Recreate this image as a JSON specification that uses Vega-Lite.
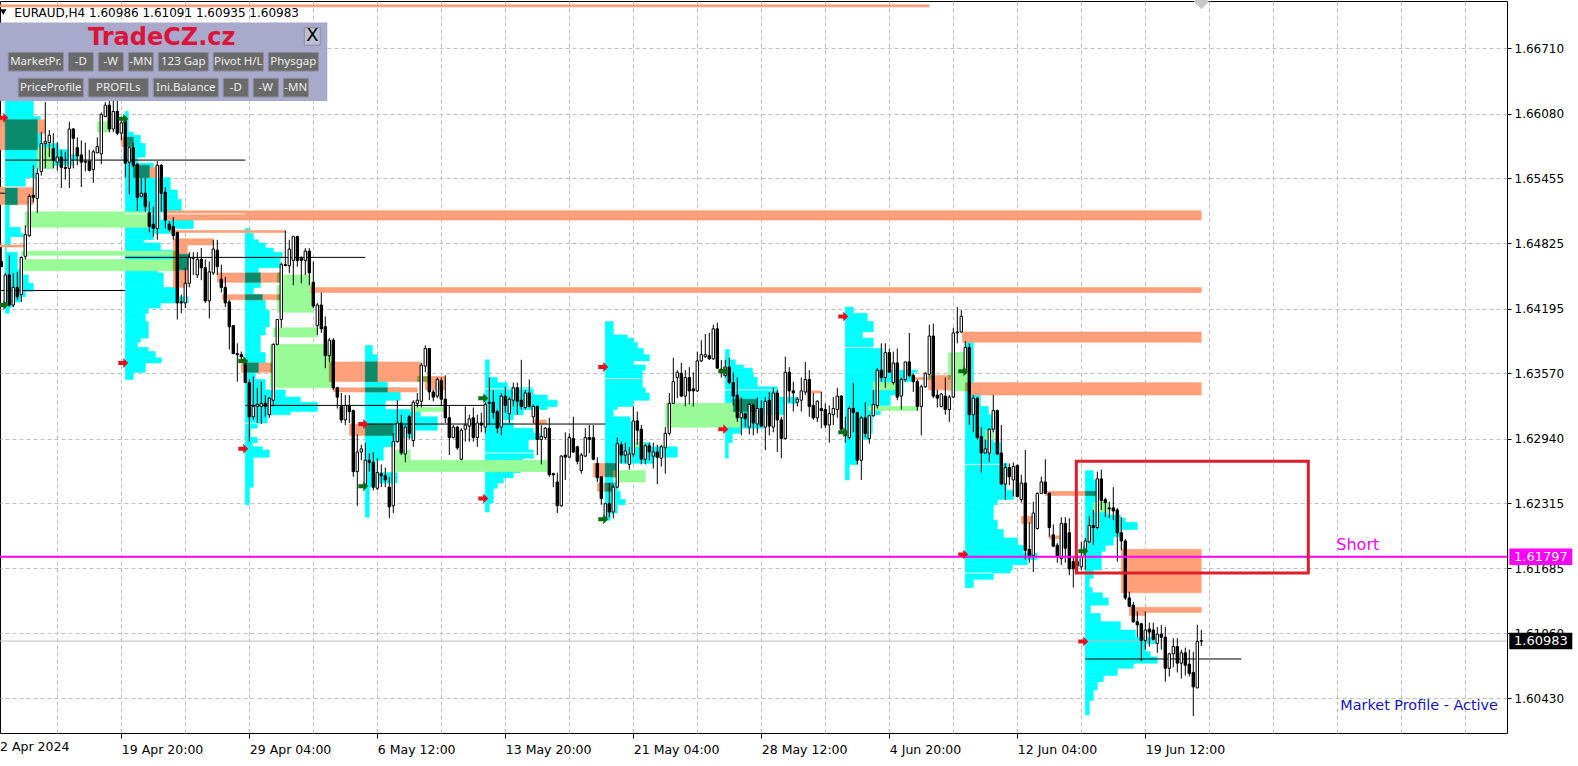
{"$schema":"https://vega.github.io/schema/vega-lite/v6.json","width":1507,"height":732,"autosize":{"type":"none"},"padding":{"left":0,"top":1,"right":71,"bottom":33},"background":"white","view":{"stroke":"black","strokeWidth":1},
"config":{"text":{"font":"DejaVu Sans"},"axis":{"labelFont":"DejaVu Sans","labelColor":"black"}},
"datasets":{
"zones":[
{"z":"profile","a":1,"b":8,"p":1.6625,"q":1.6605},{"z":"profile","a":1,"b":9.75,"p":1.6605,"q":1.6579},{"z":"profile","a":1,"b":14.25,"p":1.6579,"q":1.6573},{"z":"profile","a":1,"b":16.75,"p":1.6573,"q":1.6568},{"z":"profile","a":1,"b":19,"p":1.6568,"q":1.6563},{"z":"profile","a":1,"b":17.75,"p":1.6563,"q":1.6558},{"z":"profile","a":1,"b":13,"p":1.6558,"q":1.6555},{"z":"profile","a":1,"b":8.5,"p":1.6555,"q":1.6546},{"z":"profile","a":1,"b":6,"p":1.6546,"q":1.6537},{"z":"profile","a":1,"b":4,"p":1.6537,"q":1.652},{"z":"profile","a":1,"b":2,"p":1.652,"q":1.6498},{"z":"profile","a":1,"b":4.75,"p":1.6498,"q":1.6492},{"z":"profile","a":1,"b":5.5,"p":1.6492,"q":1.6489},{"z":"profile","a":1,"b":2.25,"p":1.6489,"q":1.6481},{"z":"profile","a":1,"b":1.25,"p":1.6481,"q":1.6474},{"z":"profile","a":1,"b":4,"p":1.6474,"q":1.6457},{"z":"profile","a":1,"b":4.75,"p":1.6457,"q":1.6452},{"z":"profile","a":1,"b":6.75,"p":1.6452,"q":1.6444},{"z":"profile","a":1,"b":8,"p":1.6444,"q":1.6436},{"z":"profile","a":1,"b":6,"p":1.6436,"q":1.6431},{"z":"profile","a":1,"b":4.75,"p":1.6431,"q":1.6426},{"z":"profile","a":1,"b":3,"p":1.6426,"q":1.6421},{"z":"profile","a":1,"b":2,"p":1.6421,"q":1.6415},
{"z":"profile","a":31,"b":31.75,"p":1.661,"q":1.659},{"z":"profile","a":31,"b":33,"p":1.659,"q":1.6587},{"z":"profile","a":31,"b":34.75,"p":1.6587,"q":1.6579},{"z":"profile","a":31,"b":36,"p":1.6579,"q":1.6566},{"z":"profile","a":31,"b":34,"p":1.6566,"q":1.656},{"z":"profile","a":31,"b":38,"p":1.656,"q":1.6546},{"z":"profile","a":31,"b":42.25,"p":1.6546,"q":1.6534},{"z":"profile","a":31,"b":44,"p":1.6534,"q":1.6525},{"z":"profile","a":31,"b":45,"p":1.6525,"q":1.6513},{"z":"profile","a":31,"b":39.75,"p":1.6513,"q":1.6505},{"z":"profile","a":31,"b":48,"p":1.6505,"q":1.6497},{"z":"profile","a":31,"b":43,"p":1.6497,"q":1.6492},{"z":"profile","a":31,"b":38,"p":1.6492,"q":1.6486},{"z":"profile","a":31,"b":35.5,"p":1.6486,"q":1.6483},{"z":"profile","a":31,"b":39.75,"p":1.6483,"q":1.6476},{"z":"profile","a":31,"b":43,"p":1.6476,"q":1.6457},{"z":"profile","a":31,"b":39,"p":1.6457,"q":1.6454},{"z":"profile","a":31,"b":40.5,"p":1.6454,"q":1.644},{"z":"profile","a":31,"b":44,"p":1.644,"q":1.6431},{"z":"profile","a":31,"b":46.75,"p":1.6431,"q":1.6425},{"z":"profile","a":31,"b":39.75,"p":1.6425,"q":1.642},{"z":"profile","a":31,"b":36.75,"p":1.642,"q":1.6415},{"z":"profile","a":31,"b":36,"p":1.6415,"q":1.6407},{"z":"profile","a":31,"b":36.75,"p":1.6407,"q":1.6391},{"z":"profile","a":31,"b":34.75,"p":1.6391,"q":1.6387},{"z":"profile","a":31,"b":34,"p":1.6387,"q":1.6382},{"z":"profile","a":31,"b":36.75,"p":1.6382,"q":1.6378},{"z":"profile","a":31,"b":38.5,"p":1.6378,"q":1.6372},{"z":"profile","a":31,"b":40,"p":1.6372,"q":1.6367},{"z":"profile","a":31,"b":36,"p":1.6367,"q":1.6358},{"z":"profile","a":31,"b":33,"p":1.6358,"q":1.6351},
{"z":"profile","a":61,"b":62,"p":1.6497,"q":1.6492},{"z":"profile","a":61,"b":63,"p":1.6492,"q":1.6486},{"z":"profile","a":61,"b":64.25,"p":1.6486,"q":1.6483},{"z":"profile","a":61,"b":66,"p":1.6483,"q":1.6478},{"z":"profile","a":61,"b":68,"p":1.6478,"q":1.6474},{"z":"profile","a":61,"b":70.25,"p":1.6474,"q":1.6469},{"z":"profile","a":61,"b":69.75,"p":1.6469,"q":1.6459},{"z":"profile","a":61,"b":64.25,"p":1.6459,"q":1.6454},{"z":"profile","a":61,"b":65.25,"p":1.6454,"q":1.6445},{"z":"profile","a":61,"b":64.75,"p":1.6445,"q":1.644},{"z":"profile","a":61,"b":63,"p":1.644,"q":1.6433},{"z":"profile","a":61,"b":65.25,"p":1.6433,"q":1.6428},{"z":"profile","a":61,"b":66,"p":1.6428,"q":1.6418},{"z":"profile","a":61,"b":67,"p":1.6418,"q":1.6402},{"z":"profile","a":61,"b":66,"p":1.6402,"q":1.6394},{"z":"profile","a":61,"b":64.75,"p":1.6394,"q":1.6377},{"z":"profile","a":61,"b":66,"p":1.6377,"q":1.6367},{"z":"profile","a":61,"b":64.25,"p":1.6367,"q":1.6358},{"z":"profile","a":61,"b":63.5,"p":1.6358,"q":1.6351},{"z":"profile","a":61,"b":66,"p":1.6351,"q":1.6341},{"z":"profile","a":61,"b":71,"p":1.6341,"q":1.6334},{"z":"profile","a":61,"b":74.75,"p":1.6334,"q":1.6329},{"z":"profile","a":61,"b":79,"p":1.6329,"q":1.632},{"z":"profile","a":61,"b":72.25,"p":1.632,"q":1.6317},{"z":"profile","a":61,"b":66.5,"p":1.6317,"q":1.6309},{"z":"profile","a":61,"b":64,"p":1.6309,"q":1.6304},{"z":"profile","a":61,"b":62.25,"p":1.6304,"q":1.6295},{"z":"profile","a":61,"b":64,"p":1.6295,"q":1.629},{"z":"profile","a":61,"b":62.75,"p":1.629,"q":1.6286},{"z":"profile","a":61,"b":65.25,"p":1.6286,"q":1.6283},{"z":"profile","a":61,"b":67,"p":1.6283,"q":1.6276},{"z":"profile","a":61,"b":63,"p":1.6276,"q":1.6247},{"z":"profile","a":61,"b":62,"p":1.6247,"q":1.623},
{"z":"profile","a":91,"b":92.75,"p":1.6384,"q":1.6375},{"z":"profile","a":91,"b":94,"p":1.6375,"q":1.6351},{"z":"profile","a":91,"b":96.5,"p":1.6351,"q":1.6343},{"z":"profile","a":91,"b":99.75,"p":1.6343,"q":1.6331},{"z":"profile","a":91,"b":96,"p":1.6331,"q":1.6322},{"z":"profile","a":91,"b":104.75,"p":1.6322,"q":1.6315},{"z":"profile","a":91,"b":109,"p":1.6315,"q":1.6302},{"z":"profile","a":91,"b":103.5,"p":1.6302,"q":1.6295},{"z":"profile","a":91,"b":98.5,"p":1.6295,"q":1.6286},{"z":"profile","a":91,"b":95.5,"p":1.6286,"q":1.6273},{"z":"profile","a":91,"b":93.5,"p":1.6273,"q":1.6261},{"z":"profile","a":91,"b":99,"p":1.6261,"q":1.6251},{"z":"profile","a":91,"b":94,"p":1.6251,"q":1.6247},{"z":"profile","a":91,"b":92,"p":1.6247,"q":1.6218},
{"z":"profile","a":121,"b":122,"p":1.637,"q":1.6353},{"z":"profile","a":121,"b":124,"p":1.6353,"q":1.6348},{"z":"profile","a":121,"b":126.5,"p":1.6348,"q":1.6343},{"z":"profile","a":121,"b":133,"p":1.6343,"q":1.6336},{"z":"profile","a":121,"b":136.5,"p":1.6336,"q":1.6331},{"z":"profile","a":121,"b":139,"p":1.6331,"q":1.6325},{"z":"profile","a":121,"b":136.5,"p":1.6325,"q":1.6322},{"z":"profile","a":121,"b":130.5,"p":1.6322,"q":1.6317},{"z":"profile","a":121,"b":128,"p":1.6317,"q":1.6312},{"z":"profile","a":121,"b":124.75,"p":1.6312,"q":1.6309},{"z":"profile","a":121,"b":128,"p":1.6309,"q":1.6304},{"z":"profile","a":121,"b":133,"p":1.6304,"q":1.6299},{"z":"profile","a":121,"b":134.75,"p":1.6299,"q":1.6293},{"z":"profile","a":121,"b":131.75,"p":1.6293,"q":1.6283},{"z":"profile","a":121,"b":133,"p":1.6283,"q":1.6275},{"z":"profile","a":121,"b":130.25,"p":1.6275,"q":1.627},{"z":"profile","a":121,"b":129.75,"p":1.627,"q":1.6261},{"z":"profile","a":121,"b":128,"p":1.6261,"q":1.6256},{"z":"profile","a":121,"b":125.5,"p":1.6256,"q":1.6251},{"z":"profile","a":121,"b":124,"p":1.6251,"q":1.6246},{"z":"profile","a":121,"b":123,"p":1.6246,"q":1.6232},{"z":"profile","a":121,"b":122,"p":1.6232,"q":1.6223},
{"z":"profile","a":151,"b":153,"p":1.6407,"q":1.6394},{"z":"profile","a":151,"b":156.5,"p":1.6394,"q":1.6391},{"z":"profile","a":151,"b":158,"p":1.6391,"q":1.6387},{"z":"profile","a":151,"b":159,"p":1.6387,"q":1.6381},{"z":"profile","a":151,"b":160.5,"p":1.6381,"q":1.6375},{"z":"profile","a":151,"b":162,"p":1.6375,"q":1.6369},{"z":"profile","a":151,"b":158,"p":1.6369,"q":1.6365},{"z":"profile","a":151,"b":161,"p":1.6365,"q":1.636},{"z":"profile","a":151,"b":160.25,"p":1.636,"q":1.6343},{"z":"profile","a":151,"b":161,"p":1.6343,"q":1.6338},{"z":"profile","a":151,"b":162,"p":1.6338,"q":1.6331},{"z":"profile","a":151,"b":158,"p":1.6331,"q":1.6325},{"z":"profile","a":151,"b":154,"p":1.6325,"q":1.6322},{"z":"profile","a":151,"b":153,"p":1.6322,"q":1.6315},{"z":"profile","a":151,"b":157.25,"p":1.6315,"q":1.631},{"z":"profile","a":151,"b":157.75,"p":1.631,"q":1.63},{"z":"profile","a":151,"b":158,"p":1.63,"q":1.629},{"z":"profile","a":151,"b":162.25,"p":1.629,"q":1.6286},{"z":"profile","a":151,"b":169,"p":1.6286,"q":1.6276},{"z":"profile","a":151,"b":163,"p":1.6276,"q":1.627},{"z":"profile","a":151,"b":154,"p":1.627,"q":1.6257},{"z":"profile","a":151,"b":153,"p":1.6257,"q":1.6251},{"z":"profile","a":151,"b":154,"p":1.6251,"q":1.6243},{"z":"profile","a":151,"b":154.75,"p":1.6243,"q":1.6235},{"z":"profile","a":151,"b":156,"p":1.6235,"q":1.623},{"z":"profile","a":151,"b":154,"p":1.623,"q":1.6222},{"z":"profile","a":151,"b":152.25,"p":1.6222,"q":1.6215},
{"z":"profile","a":181,"b":182,"p":1.638,"q":1.637},{"z":"profile","a":181,"b":183.5,"p":1.637,"q":1.6365},{"z":"profile","a":181,"b":185.5,"p":1.6365,"q":1.6362},{"z":"profile","a":181,"b":187.75,"p":1.6362,"q":1.6358},{"z":"profile","a":181,"b":188,"p":1.6358,"q":1.6353},{"z":"profile","a":181,"b":189,"p":1.6353,"q":1.6344},{"z":"profile","a":181,"b":194,"p":1.6344,"q":1.6334},{"z":"profile","a":181,"b":199,"p":1.6334,"q":1.6328},{"z":"profile","a":181,"b":195.5,"p":1.6328,"q":1.6317},{"z":"profile","a":181,"b":190.5,"p":1.6317,"q":1.6304},{"z":"profile","a":181,"b":184.75,"p":1.6304,"q":1.6299},{"z":"profile","a":181,"b":182.75,"p":1.6299,"q":1.629},{"z":"profile","a":181,"b":181.75,"p":1.629,"q":1.6275},
{"z":"profile","a":211,"b":213,"p":1.6421,"q":1.6415},{"z":"profile","a":211,"b":216.5,"p":1.6415,"q":1.6407},{"z":"profile","a":211,"b":218,"p":1.6407,"q":1.6397},{"z":"profile","a":211,"b":215.25,"p":1.6397,"q":1.6391},{"z":"profile","a":211,"b":218,"p":1.6391,"q":1.6381},{"z":"profile","a":211,"b":220.25,"p":1.6381,"q":1.636},{"z":"profile","a":211,"b":229,"p":1.636,"q":1.6358},{"z":"profile","a":211,"b":228,"p":1.6358,"q":1.6349},{"z":"profile","a":211,"b":225.5,"p":1.6349,"q":1.6336},{"z":"profile","a":211,"b":222.25,"p":1.6336,"q":1.6326},{"z":"profile","a":211,"b":219.75,"p":1.6326,"q":1.6317},{"z":"profile","a":211,"b":217.75,"p":1.6317,"q":1.6299},{"z":"profile","a":211,"b":216.75,"p":1.6299,"q":1.6293},{"z":"profile","a":211,"b":214,"p":1.6293,"q":1.6269},{"z":"profile","a":211,"b":212,"p":1.6269,"q":1.6254},
{"z":"profile","a":241,"b":243,"p":1.6387,"q":1.6336},{"z":"profile","a":241,"b":244.75,"p":1.6336,"q":1.6325},{"z":"profile","a":241,"b":246.75,"p":1.6325,"q":1.6317},{"z":"profile","a":241,"b":248,"p":1.6317,"q":1.629},{"z":"profile","a":241,"b":249.75,"p":1.629,"q":1.627},{"z":"profile","a":241,"b":251.5,"p":1.627,"q":1.6257},{"z":"profile","a":241,"b":251.25,"p":1.6257,"q":1.6244},{"z":"profile","a":241,"b":253,"p":1.6244,"q":1.6235},{"z":"profile","a":241,"b":249,"p":1.6235,"q":1.623},{"z":"profile","a":241,"b":248,"p":1.623,"q":1.6215},{"z":"profile","a":241,"b":249,"p":1.6215,"q":1.6206},{"z":"profile","a":241,"b":250.5,"p":1.6206,"q":1.6198},{"z":"profile","a":241,"b":254,"p":1.6198,"q":1.6191},{"z":"profile","a":241,"b":255.5,"p":1.6191,"q":1.6183},{"z":"profile","a":241,"b":259,"p":1.6183,"q":1.6177},{"z":"profile","a":241,"b":256.5,"p":1.6177,"q":1.6172},{"z":"profile","a":241,"b":252.75,"p":1.6172,"q":1.6167},{"z":"profile","a":241,"b":252.25,"p":1.6167,"q":1.6164},{"z":"profile","a":241,"b":248,"p":1.6164,"q":1.6158},{"z":"profile","a":241,"b":243,"p":1.6158,"q":1.615},
{"z":"profile","a":271,"b":273,"p":1.6263,"q":1.6254},{"z":"profile","a":271,"b":274,"p":1.6254,"q":1.6232},{"z":"profile","a":271,"b":276.5,"p":1.6232,"q":1.622},{"z":"profile","a":271,"b":279.75,"p":1.622,"q":1.6217},{"z":"profile","a":271,"b":281,"p":1.6217,"q":1.6213},{"z":"profile","a":271,"b":284,"p":1.6213,"q":1.6206},{"z":"profile","a":271,"b":279.75,"p":1.6206,"q":1.6199},{"z":"profile","a":271,"b":278,"p":1.6199,"q":1.6191},{"z":"profile","a":271,"b":276,"p":1.6191,"q":1.6185},{"z":"profile","a":271,"b":275,"p":1.6185,"q":1.6167},{"z":"profile","a":271,"b":273,"p":1.6167,"q":1.6159},{"z":"profile","a":271,"b":272,"p":1.6159,"q":1.615},{"z":"profile","a":271,"b":272.75,"p":1.615,"q":1.6145},{"z":"profile","a":271,"b":275.25,"p":1.6145,"q":1.614},{"z":"profile","a":271,"b":276.75,"p":1.614,"q":1.6133},{"z":"profile","a":271,"b":272.25,"p":1.6133,"q":1.6125},{"z":"profile","a":271,"b":274.75,"p":1.6125,"q":1.6117},{"z":"profile","a":271,"b":279.75,"p":1.6117,"q":1.6109},{"z":"profile","a":271,"b":283.5,"p":1.6109,"q":1.6102},{"z":"profile","a":271,"b":289,"p":1.6102,"q":1.6096},{"z":"profile","a":271,"b":286,"p":1.6096,"q":1.6088},{"z":"profile","a":271,"b":287.25,"p":1.6088,"q":1.6083},{"z":"profile","a":271,"b":289,"p":1.6083,"q":1.6077},{"z":"profile","a":271,"b":283,"p":1.6077,"q":1.6072},{"z":"profile","a":271,"b":279,"p":1.6072,"q":1.6065},{"z":"profile","a":271,"b":275.5,"p":1.6065,"q":1.6059},{"z":"profile","a":271,"b":274,"p":1.6059,"q":1.6051},{"z":"profile","a":271,"b":273,"p":1.6051,"q":1.6041},{"z":"profile","a":271,"b":272,"p":1.6041,"q":1.6027},
{"z":"value","a":6,"b":37,"p":1.6513,"q":1.6498},{"z":"value","a":5,"b":43,"p":1.6475,"q":1.6471},{"z":"value","a":5.5,"b":43,"p":1.6467,"q":1.6456},{"z":"value","a":24,"b":27.25,"p":1.66,"q":1.659},{"z":"value","a":9,"b":13,"p":1.6575,"q":1.6555},{"z":"value","a":70.5,"b":77.25,"p":1.6452,"q":1.6442},{"z":"value","a":69,"b":78,"p":1.6442,"q":1.6416},{"z":"value","a":68,"b":79,"p":1.6401,"q":1.6392},{"z":"value","a":67.25,"b":82.75,"p":1.6385,"q":1.6343},{"z":"value","a":97.75,"b":102.25,"p":1.6283,"q":1.6273},{"z":"value","a":97.75,"b":136.5,"p":1.6273,"q":1.6262},{"z":"value","a":102.25,"b":110.5,"p":1.6324,"q":1.632},{"z":"value","a":154,"b":161,"p":1.6263,"q":1.6252},{"z":"value","a":166,"b":184.75,"p":1.6328,"q":1.6305},{"z":"value","a":158,"b":160.5,"p":1.629,"q":1.6286},{"z":"value","a":218,"b":224,"p":1.6348,"q":1.6341},{"z":"value","a":216.75,"b":229.25,"p":1.6325,"q":1.6321},{"z":"value","a":236.75,"b":241.75,"p":1.6377,"q":1.634},{"z":"value","a":246,"b":248,"p":1.6302,"q":1.6293},{"z":"value","a":273,"b":276.5,"p":1.6232,"q":1.6223},
{"z":"level","a":-1,"b":232,"p":1.6713,"q":1.6711},{"z":"level","a":41,"b":300,"p":1.6514,"q":1.6505},{"z":"level","a":77.25,"b":300,"p":1.644,"q":1.6435},{"z":"level","a":240.25,"b":300,"p":1.6397,"q":1.6387},{"z":"level","a":242.25,"b":300,"p":1.6348,"q":1.6336},{"z":"level","a":280,"b":300,"p":1.6187,"q":1.6145},{"z":"level","a":282,"b":300,"p":1.6131,"q":1.6126},{"z":"level","a":282,"b":286,"p":1.6126,"q":1.6123},{"z":"level","a":42.25,"b":71,"p":1.6495,"q":1.6493},{"z":"level","a":43,"b":53,"p":1.6487,"q":1.6481},{"z":"level","a":43,"b":46.5,"p":1.6481,"q":1.644},{"z":"level","a":54,"b":69.75,"p":1.6454,"q":1.6445},{"z":"level","a":55.25,"b":69.75,"p":1.6433,"q":1.6428},{"z":"level","a":60,"b":67.75,"p":1.6367,"q":1.6358},{"z":"level","a":82,"b":104.75,"p":1.6368,"q":1.6349},{"z":"level","a":83,"b":104,"p":1.6343,"q":1.6339},{"z":"level","a":87,"b":91,"p":1.6308,"q":1.6297},{"z":"level","a":106,"b":111,"p":1.6354,"q":1.6341},{"z":"level","a":133,"b":136.25,"p":1.6312,"q":1.6308},{"z":"level","a":148,"b":151.5,"p":1.627,"q":1.6257},{"z":"level","a":149,"b":151,"p":1.6251,"q":1.6243},{"z":"level","a":201,"b":205,"p":1.634,"q":1.6338},{"z":"level","a":227.75,"b":232.75,"p":1.6353,"q":1.6351},{"z":"level","a":231.75,"b":237.25,"p":1.6355,"q":1.6341},{"z":"level","a":255,"b":257.75,"p":1.6219,"q":1.6212},{"z":"level","a":261,"b":271,"p":1.6243,"q":1.6239},{"z":"level","a":262,"b":264.75,"p":1.62,"q":1.6197},{"z":"level","a":-1,"b":1,"p":1.6602,"q":1.6573},{"z":"level","a":9,"b":11,"p":1.6602,"q":1.6589},{"z":"level","a":-1,"b":8,"p":1.6537,"q":1.652},{"z":"level","a":-1,"b":6,"p":1.6481,"q":1.6479},{"z":"level","a":30,"b":33,"p":1.6585,"q":1.6576},{"z":"level","a":37,"b":39,"p":1.6556,"q":1.6546},
{"z":"overlap","a":1,"b":9,"p":1.6602,"q":1.6573},{"z":"overlap","a":1,"b":4,"p":1.6536,"q":1.652},{"z":"overlap","a":31.25,"b":33,"p":1.6585,"q":1.6576},{"z":"overlap","a":33,"b":37,"p":1.6558,"q":1.6546},{"z":"overlap","a":61,"b":64.75,"p":1.6454,"q":1.6445},{"z":"overlap","a":61,"b":65.25,"p":1.6433,"q":1.6428},{"z":"overlap","a":61,"b":64.25,"p":1.6367,"q":1.6358},{"z":"overlap","a":91,"b":94,"p":1.6368,"q":1.6349},{"z":"overlap","a":91,"b":96.5,"p":1.6343,"q":1.6339},{"z":"overlap","a":91,"b":98,"p":1.6308,"q":1.6297},{"z":"overlap","a":151,"b":154,"p":1.627,"q":1.6257},{"z":"overlap","a":151,"b":153,"p":1.6251,"q":1.6243},{"z":"overlap","a":183,"b":189,"p":1.6332,"q":1.632},{"z":"overlap","a":271,"b":273.75,"p":1.6243,"q":1.6239},{"z":"overlap","a":43.5,"b":47,"p":1.6472,"q":1.6457},
{"z":"edge","a":43,"b":43.75,"p":1.6475,"q":1.6456},{"z":"edge","a":69,"b":69.75,"p":1.6454,"q":1.6445},{"z":"edge","a":69,"b":69.75,"p":1.6433,"q":1.6428},{"z":"edge","a":67.25,"b":67.75,"p":1.6367,"q":1.6358},{"z":"edge","a":82,"b":82.75,"p":1.6368,"q":1.6349},{"z":"edge","a":104,"b":106.75,"p":1.6354,"q":1.6349},{"z":"edge","a":231.75,"b":232.75,"p":1.6355,"q":1.6351},{"z":"edge","a":236.75,"b":237.25,"p":1.6355,"q":1.6351},{"z":"edge","a":241,"b":242.25,"p":1.6348,"q":1.634},{"z":"edge","a":153,"b":154,"p":1.6263,"q":1.6257}
],
"whiteLines":[{"a":1,"b":8,"p":1.6537},{"a":31,"b":61,"p":1.6511},{"a":61,"b":64,"p":1.6309},{"a":121,"b":135,"p":1.6342},{"a":121,"b":133,"p":1.628},{"a":151,"b":160,"p":1.6352},{"a":181,"b":194,"p":1.6341},{"a":211,"b":225,"p":1.6382},{"a":241,"b":250,"p":1.6269},{"a":241,"b":248,"p":1.6164}],
"blackLines":[{"a":1,"b":61,"p":1.6563},{"a":-1,"b":31,"p":1.6437},{"a":31,"b":91,"p":1.6469},{"a":61,"b":121,"p":1.6326},{"a":91,"b":151,"p":1.6308},{"a":271,"b":310,"p":1.6081},{"a":-1,"b":1,"p":1.6531}],
"bid":[{"a":-1,"b":377,"p":1.60983}],
"ask":[{"a":-1,"b":377,"p":1.61797}],
"candles":[
{"i":0,"o":1.6465,"h":1.6479,"l":1.646,"c":1.646},{"i":1,"o":1.6423,"h":1.6454,"l":1.642,"c":1.6452},{"i":2,"o":1.6452,"h":1.6471,"l":1.6421,"c":1.6423},{"i":3,"o":1.6423,"h":1.6454,"l":1.6421,"c":1.644},{"i":4,"o":1.644,"h":1.6455,"l":1.6428,"c":1.6431},{"i":5,"o":1.6433,"h":1.647,"l":1.6426,"c":1.6469},{"i":6,"o":1.647,"h":1.65,"l":1.6467,"c":1.6491},{"i":7,"o":1.649,"h":1.653,"l":1.6489,"c":1.6528},{"i":8,"o":1.6529,"h":1.6558,"l":1.6522,"c":1.6527},{"i":9,"o":1.6526,"h":1.6555,"l":1.6512,"c":1.655},
{"i":10,"o":1.6552,"h":1.659,"l":1.6548,"c":1.6579},{"i":11,"o":1.6579,"h":1.6619,"l":1.6555,"c":1.6581},{"i":12,"o":1.658,"h":1.6592,"l":1.6566,"c":1.6587},{"i":13,"o":1.6574,"h":1.6589,"l":1.6555,"c":1.6563},{"i":14,"o":1.6561,"h":1.658,"l":1.6553,"c":1.6566},{"i":15,"o":1.6566,"h":1.6573,"l":1.6536,"c":1.6556},{"i":16,"o":1.6556,"h":1.6571,"l":1.6544,"c":1.6555},{"i":17,"o":1.6555,"h":1.66,"l":1.6536,"c":1.6593},{"i":18,"o":1.6593,"h":1.6594,"l":1.6555,"c":1.6584},{"i":19,"o":1.6575,"h":1.6585,"l":1.6558,"c":1.6567},
{"i":20,"o":1.6568,"h":1.6582,"l":1.6537,"c":1.6561},{"i":21,"o":1.6562,"h":1.658,"l":1.6552,"c":1.6561},{"i":22,"o":1.6562,"h":1.6573,"l":1.6552,"c":1.6553},{"i":23,"o":1.6554,"h":1.6573,"l":1.6541,"c":1.6571},{"i":24,"o":1.657,"h":1.6585,"l":1.657,"c":1.6576},{"i":25,"o":1.6569,"h":1.6609,"l":1.6559,"c":1.6607},{"i":26,"o":1.6605,"h":1.6619,"l":1.6605,"c":1.6616},{"i":27,"o":1.6616,"h":1.6621,"l":1.659,"c":1.6593},{"i":28,"o":1.6593,"h":1.6621,"l":1.659,"c":1.661},{"i":29,"o":1.661,"h":1.6621,"l":1.6587,"c":1.6589},
{"i":30,"o":1.6589,"h":1.6602,"l":1.6582,"c":1.6599},{"i":31,"o":1.6601,"h":1.6603,"l":1.6546,"c":1.656},{"i":32,"o":1.6561,"h":1.6576,"l":1.653,"c":1.6575},{"i":33,"o":1.6575,"h":1.658,"l":1.6556,"c":1.6558},{"i":34,"o":1.6559,"h":1.656,"l":1.6514,"c":1.6527},{"i":35,"o":1.6528,"h":1.6546,"l":1.6527,"c":1.6531},{"i":36,"o":1.6531,"h":1.6546,"l":1.6513,"c":1.6518},{"i":37,"o":1.6512,"h":1.6523,"l":1.6493,"c":1.6499},{"i":38,"o":1.6501,"h":1.6518,"l":1.6489,"c":1.6497},{"i":39,"o":1.6497,"h":1.6562,"l":1.6486,"c":1.6558},
{"i":40,"o":1.6558,"h":1.6559,"l":1.6513,"c":1.6531},{"i":41,"o":1.6532,"h":1.6537,"l":1.6497,"c":1.6505},{"i":42,"o":1.6501,"h":1.6504,"l":1.6494,"c":1.6496},{"i":43,"o":1.6499,"h":1.6508,"l":1.6486,"c":1.649},{"i":44,"o":1.6493,"h":1.6494,"l":1.6409,"c":1.6425},{"i":45,"o":1.6426,"h":1.6433,"l":1.6415,"c":1.6425},{"i":46,"o":1.6425,"h":1.6459,"l":1.642,"c":1.6444},{"i":47,"o":1.6444,"h":1.6474,"l":1.644,"c":1.6469},{"i":48,"o":1.6468,"h":1.6474,"l":1.6452,"c":1.6469},{"i":49,"o":1.6452,"h":1.6474,"l":1.6449,"c":1.6467},
{"i":50,"o":1.6467,"h":1.6478,"l":1.6447,"c":1.6459},{"i":51,"o":1.6459,"h":1.6467,"l":1.6425,"c":1.6427},{"i":52,"o":1.6427,"h":1.6465,"l":1.641,"c":1.6455},{"i":53,"o":1.6454,"h":1.6486,"l":1.6452,"c":1.6477},{"i":54,"o":1.6476,"h":1.6486,"l":1.6452,"c":1.646},{"i":55,"o":1.6448,"h":1.6462,"l":1.6435,"c":1.644},{"i":56,"o":1.644,"h":1.645,"l":1.6421,"c":1.6425},{"i":57,"o":1.6426,"h":1.6428,"l":1.638,"c":1.6402},{"i":58,"o":1.6403,"h":1.6403,"l":1.6376,"c":1.6376},{"i":59,"o":1.6376,"h":1.6386,"l":1.6349,"c":1.6375},
{"i":60,"o":1.6375,"h":1.6378,"l":1.637,"c":1.6373},{"i":61,"o":1.6367,"h":1.637,"l":1.6348,"c":1.6348},{"i":62,"o":1.6348,"h":1.6351,"l":1.6291,"c":1.6315},{"i":63,"o":1.6315,"h":1.6354,"l":1.6312,"c":1.6325},{"i":64,"o":1.6325,"h":1.6343,"l":1.6309,"c":1.6327},{"i":65,"o":1.6325,"h":1.6349,"l":1.6308,"c":1.6328},{"i":66,"o":1.6328,"h":1.6336,"l":1.6315,"c":1.6325},{"i":67,"o":1.6317,"h":1.6334,"l":1.6314,"c":1.6333},{"i":68,"o":1.6331,"h":1.6386,"l":1.6325,"c":1.6385},{"i":69,"o":1.6385,"h":1.6409,"l":1.6384,"c":1.6409},
{"i":70,"o":1.6409,"h":1.6464,"l":1.6401,"c":1.6462},{"i":71,"o":1.6462,"h":1.6495,"l":1.6461,"c":1.6461},{"i":72,"o":1.6461,"h":1.6486,"l":1.6454,"c":1.6477},{"i":73,"o":1.6466,"h":1.649,"l":1.6442,"c":1.6489},{"i":74,"o":1.6489,"h":1.649,"l":1.646,"c":1.6466},{"i":75,"o":1.6468,"h":1.647,"l":1.6444,"c":1.6466},{"i":76,"o":1.6466,"h":1.6478,"l":1.6452,"c":1.6475},{"i":77,"o":1.6475,"h":1.6478,"l":1.6442,"c":1.6454},{"i":78,"o":1.6445,"h":1.6465,"l":1.642,"c":1.6422},{"i":79,"o":1.6403,"h":1.6425,"l":1.6394,"c":1.6423},
{"i":80,"o":1.6423,"h":1.6435,"l":1.6396,"c":1.64},{"i":81,"o":1.6402,"h":1.6412,"l":1.6362,"c":1.6374},{"i":82,"o":1.6374,"h":1.6391,"l":1.6368,"c":1.6389},{"i":83,"o":1.6389,"h":1.6391,"l":1.6341,"c":1.6343},{"i":84,"o":1.6343,"h":1.6344,"l":1.6323,"c":1.6334},{"i":85,"o":1.6325,"h":1.6338,"l":1.6309,"c":1.6312},{"i":86,"o":1.6312,"h":1.6336,"l":1.6307,"c":1.6326},{"i":87,"o":1.6326,"h":1.6336,"l":1.6309,"c":1.632},{"i":88,"o":1.6321,"h":1.6322,"l":1.6257,"c":1.6262},{"i":89,"o":1.6262,"h":1.6298,"l":1.6229,"c":1.6281},
{"i":90,"o":1.6281,"h":1.6288,"l":1.6273,"c":1.6284},{"i":91,"o":1.6248,"h":1.629,"l":1.6246,"c":1.6273},{"i":92,"o":1.6273,"h":1.628,"l":1.6262,"c":1.6271},{"i":93,"o":1.6271,"h":1.6281,"l":1.6244,"c":1.6247},{"i":94,"o":1.6246,"h":1.6275,"l":1.6244,"c":1.6261},{"i":95,"o":1.626,"h":1.6269,"l":1.6247,"c":1.6258},{"i":96,"o":1.6258,"h":1.6266,"l":1.6247,"c":1.6254},{"i":97,"o":1.6247,"h":1.6257,"l":1.6217,"c":1.6228},{"i":98,"o":1.6229,"h":1.6299,"l":1.6222,"c":1.6291},{"i":99,"o":1.6291,"h":1.6331,"l":1.629,"c":1.6309},
{"i":100,"o":1.6309,"h":1.6317,"l":1.6278,"c":1.628},{"i":101,"o":1.6279,"h":1.6307,"l":1.6271,"c":1.6305},{"i":102,"o":1.6315,"h":1.6317,"l":1.6293,"c":1.6299},{"i":103,"o":1.6292,"h":1.6331,"l":1.6286,"c":1.6329},{"i":104,"o":1.6328,"h":1.6338,"l":1.6324,"c":1.6331},{"i":105,"o":1.633,"h":1.6367,"l":1.6324,"c":1.6365},{"i":106,"o":1.6364,"h":1.6384,"l":1.6358,"c":1.6381},{"i":107,"o":1.6381,"h":1.6381,"l":1.6331,"c":1.6339},{"i":108,"o":1.6339,"h":1.6341,"l":1.633,"c":1.6334},{"i":109,"o":1.6335,"h":1.6353,"l":1.6333,"c":1.6351},
{"i":110,"o":1.635,"h":1.6353,"l":1.6325,"c":1.6332},{"i":111,"o":1.6332,"h":1.6355,"l":1.6309,"c":1.6314},{"i":112,"o":1.6314,"h":1.6326,"l":1.6278,"c":1.6295},{"i":113,"o":1.6295,"h":1.6307,"l":1.6294,"c":1.6305},{"i":114,"o":1.6305,"h":1.6306,"l":1.6283,"c":1.6285},{"i":115,"o":1.6274,"h":1.6304,"l":1.6273,"c":1.6302},{"i":116,"o":1.6303,"h":1.6325,"l":1.6291,"c":1.6307},{"i":117,"o":1.6306,"h":1.6317,"l":1.6291,"c":1.6313},{"i":118,"o":1.6314,"h":1.6324,"l":1.6291,"c":1.6295},{"i":119,"o":1.6295,"h":1.6317,"l":1.6286,"c":1.6309},
{"i":120,"o":1.6309,"h":1.6319,"l":1.63,"c":1.6307},{"i":121,"o":1.6305,"h":1.6329,"l":1.6299,"c":1.6327},{"i":122,"o":1.6328,"h":1.6353,"l":1.6307,"c":1.6329},{"i":123,"o":1.6329,"h":1.6341,"l":1.6313,"c":1.6319},{"i":124,"o":1.632,"h":1.6322,"l":1.6299,"c":1.6304},{"i":125,"o":1.6305,"h":1.6338,"l":1.6297,"c":1.6335},{"i":126,"o":1.6335,"h":1.6344,"l":1.6319,"c":1.6326},{"i":127,"o":1.6318,"h":1.6334,"l":1.6309,"c":1.6332},{"i":128,"o":1.6331,"h":1.6348,"l":1.6325,"c":1.6343},{"i":129,"o":1.6343,"h":1.6348,"l":1.6317,"c":1.633},
{"i":130,"o":1.6331,"h":1.637,"l":1.6322,"c":1.6325},{"i":131,"o":1.6324,"h":1.6341,"l":1.6322,"c":1.6338},{"i":132,"o":1.6338,"h":1.6351,"l":1.6324,"c":1.6325},{"i":133,"o":1.6315,"h":1.6327,"l":1.6309,"c":1.6325},{"i":134,"o":1.6325,"h":1.6326,"l":1.6278,"c":1.6293},{"i":135,"o":1.6293,"h":1.6307,"l":1.6269,"c":1.6296},{"i":136,"o":1.6295,"h":1.6305,"l":1.6293,"c":1.6304},{"i":137,"o":1.6304,"h":1.6314,"l":1.6257,"c":1.6259},{"i":138,"o":1.626,"h":1.6261,"l":1.6247,"c":1.6259},{"i":139,"o":1.6252,"h":1.6261,"l":1.6222,"c":1.6229},
{"i":140,"o":1.6229,"h":1.6278,"l":1.6228,"c":1.6277},{"i":141,"o":1.6278,"h":1.63,"l":1.6254,"c":1.6276},{"i":142,"o":1.6276,"h":1.6299,"l":1.6275,"c":1.6295},{"i":143,"o":1.6294,"h":1.6315,"l":1.628,"c":1.6281},{"i":144,"o":1.6286,"h":1.6287,"l":1.6269,"c":1.6272},{"i":145,"o":1.6263,"h":1.628,"l":1.626,"c":1.6278},{"i":146,"o":1.6277,"h":1.6304,"l":1.6276,"c":1.6295},{"i":147,"o":1.6295,"h":1.6307,"l":1.628,"c":1.6293},{"i":148,"o":1.6295,"h":1.6307,"l":1.6273,"c":1.6274},{"i":149,"o":1.627,"h":1.6276,"l":1.6252,"c":1.6256},
{"i":150,"o":1.6257,"h":1.6257,"l":1.623,"c":1.6236},{"i":151,"o":1.6217,"h":1.6232,"l":1.6215,"c":1.6231},{"i":152,"o":1.6231,"h":1.6251,"l":1.6218,"c":1.6223},{"i":153,"o":1.6223,"h":1.6249,"l":1.6217,"c":1.6247},{"i":154,"o":1.6247,"h":1.6295,"l":1.6246,"c":1.6289},{"i":155,"o":1.6288,"h":1.6291,"l":1.627,"c":1.6278},{"i":156,"o":1.6278,"h":1.629,"l":1.627,"c":1.6282},{"i":157,"o":1.6269,"h":1.6286,"l":1.6264,"c":1.6279},{"i":158,"o":1.6279,"h":1.6325,"l":1.6276,"c":1.6311},{"i":159,"o":1.6311,"h":1.632,"l":1.6288,"c":1.6302},
{"i":160,"o":1.6303,"h":1.6307,"l":1.6269,"c":1.6274},{"i":161,"o":1.6274,"h":1.6289,"l":1.6269,"c":1.6287},{"i":162,"o":1.6287,"h":1.629,"l":1.6273,"c":1.6281},{"i":163,"o":1.6277,"h":1.629,"l":1.6265,"c":1.6281},{"i":164,"o":1.6281,"h":1.6288,"l":1.625,"c":1.6276},{"i":165,"o":1.6275,"h":1.6288,"l":1.6267,"c":1.6286},{"i":166,"o":1.6285,"h":1.6305,"l":1.626,"c":1.6299},{"i":167,"o":1.6299,"h":1.6338,"l":1.6297,"c":1.6328},{"i":168,"o":1.6328,"h":1.6372,"l":1.6328,"c":1.6349},{"i":169,"o":1.6353,"h":1.636,"l":1.6333,"c":1.6358},
{"i":170,"o":1.6357,"h":1.6367,"l":1.6334,"c":1.6335},{"i":171,"o":1.6335,"h":1.636,"l":1.6325,"c":1.6353},{"i":172,"o":1.6353,"h":1.6363,"l":1.6327,"c":1.634},{"i":173,"o":1.6342,"h":1.6358,"l":1.6325,"c":1.634},{"i":174,"o":1.634,"h":1.6378,"l":1.6339,"c":1.6369},{"i":175,"o":1.6369,"h":1.6389,"l":1.6368,"c":1.6375},{"i":176,"o":1.6373,"h":1.6395,"l":1.6372,"c":1.6375},{"i":177,"o":1.6374,"h":1.6396,"l":1.637,"c":1.6371},{"i":178,"o":1.6371,"h":1.6404,"l":1.637,"c":1.64},{"i":179,"o":1.64,"h":1.6406,"l":1.6361,"c":1.6362},
{"i":180,"o":1.6361,"h":1.637,"l":1.6353,"c":1.636},{"i":181,"o":1.6355,"h":1.637,"l":1.6353,"c":1.6363},{"i":182,"o":1.6363,"h":1.6372,"l":1.6347,"c":1.6348},{"i":183,"o":1.6348,"h":1.6358,"l":1.6326,"c":1.6335},{"i":184,"o":1.6336,"h":1.6353,"l":1.631,"c":1.6314},{"i":185,"o":1.6314,"h":1.6334,"l":1.6297,"c":1.6319},{"i":186,"o":1.6318,"h":1.6319,"l":1.6305,"c":1.6313},{"i":187,"o":1.6305,"h":1.6328,"l":1.6298,"c":1.6327},{"i":188,"o":1.6326,"h":1.6328,"l":1.6297,"c":1.6309},{"i":189,"o":1.6308,"h":1.6334,"l":1.6299,"c":1.6323},
{"i":190,"o":1.6323,"h":1.6331,"l":1.6305,"c":1.6306},{"i":191,"o":1.6305,"h":1.6334,"l":1.6283,"c":1.633},{"i":192,"o":1.6331,"h":1.6339,"l":1.6297,"c":1.6306},{"i":193,"o":1.6305,"h":1.6343,"l":1.63,"c":1.6338},{"i":194,"o":1.6338,"h":1.6341,"l":1.6281,"c":1.6312},{"i":195,"o":1.6312,"h":1.6315,"l":1.6275,"c":1.6294},{"i":196,"o":1.6294,"h":1.6373,"l":1.6293,"c":1.6358},{"i":197,"o":1.6358,"h":1.6363,"l":1.6329,"c":1.634},{"i":198,"o":1.634,"h":1.6349,"l":1.632,"c":1.6338},{"i":199,"o":1.6329,"h":1.6334,"l":1.6325,"c":1.6332},
{"i":200,"o":1.6331,"h":1.6353,"l":1.632,"c":1.634},{"i":201,"o":1.6339,"h":1.6368,"l":1.6336,"c":1.6351},{"i":202,"o":1.6351,"h":1.636,"l":1.6315,"c":1.6325},{"i":203,"o":1.6326,"h":1.6338,"l":1.6312,"c":1.6314},{"i":204,"o":1.6314,"h":1.6331,"l":1.631,"c":1.633},{"i":205,"o":1.6323,"h":1.6339,"l":1.6304,"c":1.6321},{"i":206,"o":1.6322,"h":1.6328,"l":1.6304,"c":1.6307},{"i":207,"o":1.6307,"h":1.6326,"l":1.629,"c":1.6318},{"i":208,"o":1.6317,"h":1.6334,"l":1.6307,"c":1.6323},{"i":209,"o":1.6322,"h":1.6343,"l":1.6314,"c":1.6335},
{"i":210,"o":1.6335,"h":1.6336,"l":1.63,"c":1.6303},{"i":211,"o":1.6302,"h":1.6315,"l":1.629,"c":1.6297},{"i":212,"o":1.6295,"h":1.6325,"l":1.6293,"c":1.6323},{"i":213,"o":1.6323,"h":1.6348,"l":1.63,"c":1.6319},{"i":214,"o":1.6319,"h":1.632,"l":1.6269,"c":1.6273},{"i":215,"o":1.6273,"h":1.6316,"l":1.6254,"c":1.6314},{"i":216,"o":1.6314,"h":1.6329,"l":1.6295,"c":1.6299},{"i":217,"o":1.6294,"h":1.6317,"l":1.6289,"c":1.6316},{"i":218,"o":1.6316,"h":1.6341,"l":1.6315,"c":1.6327},{"i":219,"o":1.6326,"h":1.6362,"l":1.6323,"c":1.636},
{"i":220,"o":1.636,"h":1.6386,"l":1.6349,"c":1.6353},{"i":221,"o":1.6353,"h":1.6386,"l":1.6343,"c":1.6377},{"i":222,"o":1.6377,"h":1.6381,"l":1.6358,"c":1.6358},{"i":223,"o":1.6348,"h":1.6378,"l":1.6346,"c":1.6367},{"i":224,"o":1.6367,"h":1.6381,"l":1.6331,"c":1.6334},{"i":225,"o":1.6335,"h":1.6353,"l":1.6322,"c":1.6351},{"i":226,"o":1.6351,"h":1.6368,"l":1.6349,"c":1.6368},{"i":227,"o":1.6368,"h":1.6396,"l":1.6353,"c":1.6355},{"i":228,"o":1.6355,"h":1.6357,"l":1.6339,"c":1.6349},{"i":229,"o":1.6349,"h":1.6351,"l":1.6321,"c":1.6325},
{"i":230,"o":1.6325,"h":1.6346,"l":1.6297,"c":1.6344},{"i":231,"o":1.6344,"h":1.6358,"l":1.6343,"c":1.6357},{"i":232,"o":1.6356,"h":1.6404,"l":1.6356,"c":1.6393},{"i":233,"o":1.6393,"h":1.6405,"l":1.6333,"c":1.6335},{"i":234,"o":1.6336,"h":1.6341,"l":1.6324,"c":1.6333},{"i":235,"o":1.6325,"h":1.6338,"l":1.6324,"c":1.6337},{"i":236,"o":1.6335,"h":1.6353,"l":1.6317,"c":1.6322},{"i":237,"o":1.6322,"h":1.6336,"l":1.631,"c":1.6334},{"i":238,"o":1.6334,"h":1.6401,"l":1.6333,"c":1.6396},{"i":239,"o":1.6396,"h":1.6421,"l":1.6386,"c":1.6397},
{"i":240,"o":1.6397,"h":1.6418,"l":1.6396,"c":1.6412},{"i":241,"o":1.6357,"h":1.6388,"l":1.6356,"c":1.6382},{"i":242,"o":1.6382,"h":1.6386,"l":1.6307,"c":1.6317},{"i":243,"o":1.6317,"h":1.6336,"l":1.63,"c":1.6333},{"i":244,"o":1.6333,"h":1.6334,"l":1.6293,"c":1.6295},{"i":245,"o":1.6296,"h":1.6305,"l":1.6261,"c":1.628},{"i":246,"o":1.628,"h":1.6293,"l":1.6279,"c":1.6284},{"i":247,"o":1.628,"h":1.6304,"l":1.6271,"c":1.6303},{"i":248,"o":1.6303,"h":1.6336,"l":1.63,"c":1.6321},{"i":249,"o":1.6321,"h":1.6322,"l":1.6278,"c":1.6279},
{"i":250,"o":1.628,"h":1.6307,"l":1.6249,"c":1.625},{"i":251,"o":1.625,"h":1.627,"l":1.6235,"c":1.6266},{"i":252,"o":1.6266,"h":1.627,"l":1.6249,"c":1.6257},{"i":253,"o":1.6254,"h":1.6271,"l":1.6238,"c":1.6267},{"i":254,"o":1.6268,"h":1.6269,"l":1.6237,"c":1.6238},{"i":255,"o":1.6235,"h":1.6259,"l":1.6232,"c":1.6251},{"i":256,"o":1.6251,"h":1.6283,"l":1.6177,"c":1.6186},{"i":257,"o":1.6187,"h":1.6213,"l":1.6174,"c":1.6181},{"i":258,"o":1.6181,"h":1.6233,"l":1.6165,"c":1.6222},{"i":259,"o":1.6207,"h":1.6242,"l":1.6206,"c":1.6241},
{"i":260,"o":1.6241,"h":1.6257,"l":1.6241,"c":1.6252},{"i":261,"o":1.6252,"h":1.6274,"l":1.6241,"c":1.6241},{"i":262,"o":1.6241,"h":1.6242,"l":1.6199,"c":1.6208},{"i":263,"o":1.6201,"h":1.6211,"l":1.6189,"c":1.619},{"i":264,"o":1.6191,"h":1.6193,"l":1.6174,"c":1.618},{"i":265,"o":1.6178,"h":1.6218,"l":1.6172,"c":1.6212},{"i":266,"o":1.6212,"h":1.6218,"l":1.6174,"c":1.6188},{"i":267,"o":1.6203,"h":1.6217,"l":1.6162,"c":1.6168},{"i":268,"o":1.6175,"h":1.618,"l":1.615,"c":1.6168},{"i":269,"o":1.6175,"h":1.6182,"l":1.6164,"c":1.6171},
{"i":270,"o":1.617,"h":1.6194,"l":1.6167,"c":1.618},{"i":271,"o":1.6185,"h":1.6198,"l":1.6167,"c":1.6195},{"i":272,"o":1.6194,"h":1.6219,"l":1.6193,"c":1.621},{"i":273,"o":1.621,"h":1.6225,"l":1.6191,"c":1.6208},{"i":274,"o":1.6208,"h":1.6262,"l":1.6206,"c":1.6255},{"i":275,"o":1.6255,"h":1.6264,"l":1.6225,"c":1.6234},{"i":276,"o":1.6235,"h":1.6237,"l":1.6218,"c":1.6232},{"i":277,"o":1.6227,"h":1.6233,"l":1.6217,"c":1.6226},{"i":278,"o":1.6227,"h":1.6247,"l":1.6215,"c":1.6224},{"i":279,"o":1.6225,"h":1.6227,"l":1.6175,"c":1.6203},
{"i":280,"o":1.6203,"h":1.6218,"l":1.6186,"c":1.6195},{"i":281,"o":1.6195,"h":1.6197,"l":1.6138,"c":1.614},{"i":282,"o":1.614,"h":1.6146,"l":1.6131,"c":1.6132},{"i":283,"o":1.6133,"h":1.6136,"l":1.6116,"c":1.6117},{"i":284,"o":1.6117,"h":1.6127,"l":1.6102,"c":1.6114},{"i":285,"o":1.6115,"h":1.6116,"l":1.6079,"c":1.6099},{"i":286,"o":1.6099,"h":1.6127,"l":1.609,"c":1.6109},{"i":287,"o":1.611,"h":1.6116,"l":1.6093,"c":1.6107},{"i":288,"o":1.6109,"h":1.6116,"l":1.6099,"c":1.61},{"i":289,"o":1.6096,"h":1.6112,"l":1.6087,"c":1.6105},
{"i":290,"o":1.6105,"h":1.6114,"l":1.609,"c":1.6102},{"i":291,"o":1.6102,"h":1.6112,"l":1.6059,"c":1.6072},{"i":292,"o":1.6072,"h":1.6087,"l":1.6064,"c":1.6086},{"i":293,"o":1.6086,"h":1.6101,"l":1.6073,"c":1.6093},{"i":294,"o":1.6093,"h":1.6101,"l":1.6068,"c":1.6077},{"i":295,"o":1.6077,"h":1.609,"l":1.6062,"c":1.6087},{"i":296,"o":1.6087,"h":1.6092,"l":1.6065,"c":1.6075},{"i":297,"o":1.6076,"h":1.609,"l":1.6064,"c":1.6067},{"i":298,"o":1.6068,"h":1.6088,"l":1.6026,"c":1.6054},{"i":299,"o":1.6053,"h":1.6114,"l":1.6053,"c":1.6098},
{"i":300,"o":1.60986,"h":1.61091,"l":1.60935,"c":1.60983}
],
"redArrows":[{"a":0.5,"p":1.6604},{"a":30.5,"p":1.6367},{"a":60.5,"p":1.6284},{"a":90.5,"p":1.6308},{"a":120.5,"p":1.6236},{"a":150.5,"p":1.6363},{"a":180.5,"p":1.6303},{"a":210.5,"p":1.6412},{"a":240.5,"p":1.6182},{"a":270.5,"p":1.6098}],
"greenArrows":[{"a":0.5,"p":1.6423},{"a":30.5,"p":1.6603},{"a":60.5,"p":1.6369},{"a":90.5,"p":1.6248},{"a":120.5,"p":1.6333},{"a":150.5,"p":1.6216},{"a":180.5,"p":1.6359},{"a":210.5,"p":1.63},{"a":240.5,"p":1.6359},{"a":270.5,"p":1.6185}],
"buttons":[
{"t":"MarketPr.","a":1.75,"b":15.5,"m":8.625,"p":1.6667,"q":1.6649,"y":1.6658},{"t":"-D","a":16.75,"b":23,"m":19.875,"p":1.6667,"q":1.6649,"y":1.6658},{"t":"-W","a":24.25,"b":30.5,"m":27.375,"p":1.6667,"q":1.6649,"y":1.6658},{"t":"-MN","a":31.75,"b":38,"m":34.875,"p":1.6667,"q":1.6649,"y":1.6658},{"t":"123 Gap","a":39.25,"b":51.75,"m":45.5,"p":1.6667,"q":1.6649,"y":1.6658},{"t":"Pivot H/L","a":53,"b":65.5,"m":59.25,"p":1.6667,"q":1.6649,"y":1.6658},{"t":"Physgap","a":66.75,"b":79.25,"m":73,"p":1.6667,"q":1.6649,"y":1.6658},
{"t":"PriceProfile","a":4.25,"b":20.5,"m":12.375,"p":1.6642,"q":1.6624,"y":1.6633},{"t":"PROFILs","a":21.75,"b":36.75,"m":29.25,"p":1.6642,"q":1.6624,"y":1.6633},{"t":"Ini.Balance","a":38,"b":54.25,"m":46.125,"p":1.6642,"q":1.6624,"y":1.6633},{"t":"-D","a":55.5,"b":61.75,"m":58.625,"p":1.6642,"q":1.6624,"y":1.6633},{"t":"-W","a":63,"b":69.25,"m":66.125,"p":1.6642,"q":1.6624,"y":1.6633},{"t":"-MN","a":70.5,"b":76.75,"m":73.625,"p":1.6642,"q":1.6624,"y":1.6633}
]
},
"layer":[
{"data":{"name":"zones"},"mark":{"type":"rect","clip":true,"strokeWidth":0.6},"encoding":{
"x":{"field":"a","type":"quantitative","scale":{"domain":[-0.325,376.425],"nice":false,"zero":false,"padding":0},"axis":{"title":null,"values":[14,30,46,62,78,94,110,126,142,158,174,190,206,222,238,254,270,286,302,318,334,350,366],"grid":true,"gridColor":"#c0c0c0","gridDash":[4,3],"gridWidth":1,"domain":false,"labelAlign":"left","labelBaseline":"top","labelFontSize":12.5,"labelPadding":5,"labelBound":false,"labelFlush":false,"labelOverlap":false,"tickSize":5,"tickColor":"black","tickOpacity":{"condition":{"test":"indexof([30,62,94,126,158,190,222,254,286],datum.value)>=0","value":1},"value":0},"labelExpr":"['19 Apr 20:00','29 Apr 04:00','6 May 12:00','13 May 20:00','21 May 04:00','28 May 12:00','4 Jun 20:00','12 Jun 04:00','19 Jun 12:00'][indexof([30,62,94,126,158,190,222,254,286],datum.value)] || ''"}},
"x2":{"field":"b"},
"y":{"field":"p","type":"quantitative","scale":{"domain":[1.60095,1.67167],"nice":false,"zero":false},"axis":{"title":null,"orient":"right","values":[1.6671,1.6608,1.65455,1.64825,1.64195,1.6357,1.6294,1.62315,1.61685,1.6106,1.6043],"format":".5f","grid":true,"gridColor":"#c0c0c0","gridDash":[4,3],"gridWidth":1,"domain":false,"labelFontSize":12,"labelPadding":3,"labelOverlap":false,"labelBound":false,"labelFlush":false,"tickSize":4,"tickColor":"black"}},
"y2":{"field":"q"},
"color":{"field":"z","type":"nominal","legend":null,"scale":{"domain":["profile","value","level","overlap","edge"],"range":["#00FFFF","#98FB98","#FFA07A","#0A8C6C","#8E9A3C"]}},
"stroke":{"field":"z","type":"nominal","legend":null,"scale":{"domain":["profile","value","level","overlap","edge"],"range":["#00FFFF","#98FB98","#FFA07A","#0A8C6C","#8E9A3C"]}}}},
{"data":{"name":"whiteLines"},"mark":{"type":"rule","color":"#ffffff","strokeWidth":1,"opacity":0.85},"encoding":{"x":{"field":"a","type":"quantitative","scale":{"domain":[-0.325,376.425],"nice":false,"zero":false,"padding":0}},"x2":{"field":"b"},"y":{"field":"p","type":"quantitative","scale":{"domain":[1.60095,1.67167],"nice":false,"zero":false}}}},
{"data":{"name":"bid"},"mark":{"type":"rule","color":"#c0c0c0","strokeWidth":1,"clip":true},"encoding":{"x":{"field":"a","type":"quantitative","scale":{"domain":[-0.325,376.425],"nice":false,"zero":false,"padding":0}},"x2":{"field":"b"},"y":{"field":"p","type":"quantitative","scale":{"domain":[1.60095,1.67167],"nice":false,"zero":false}}}},
{"data":{"name":"blackLines"},"mark":{"type":"rule","color":"#000000","strokeWidth":1,"clip":true},"encoding":{"x":{"field":"a","type":"quantitative","scale":{"domain":[-0.325,376.425],"nice":false,"zero":false,"padding":0}},"x2":{"field":"b"},"y":{"field":"p","type":"quantitative","scale":{"domain":[1.60095,1.67167],"nice":false,"zero":false}}}},
{"data":{"name":"candles"},"mark":{"type":"rule","color":"#000000","strokeWidth":1},"encoding":{"x":{"field":"i","type":"quantitative","scale":{"domain":[-0.325,376.425],"nice":false,"zero":false,"padding":0}},"y":{"field":"l","type":"quantitative","scale":{"domain":[1.60095,1.67167],"nice":false,"zero":false}},"y2":{"field":"h"}}},
{"data":{"name":"candles"},"mark":{"type":"bar","orient":"vertical","size":2.4,"stroke":"#000000","strokeWidth":1},"encoding":{"x":{"field":"i","type":"quantitative","scale":{"domain":[-0.325,376.425],"nice":false,"zero":false,"padding":0}},"y":{"field":"o","type":"quantitative","scale":{"domain":[1.60095,1.67167],"nice":false,"zero":false}},"y2":{"field":"c"},"fill":{"condition":{"test":"datum.c>datum.o","value":"#ffffff"},"value":"#000000"}}},
{"data":{"name":"ask"},"mark":{"type":"rule","color":"#FF00FF","strokeWidth":2,"clip":true},"encoding":{"x":{"field":"a","type":"quantitative","scale":{"domain":[-0.325,376.425],"nice":false,"zero":false,"padding":0}},"x2":{"field":"b"},"y":{"field":"p","type":"quantitative","scale":{"domain":[1.60095,1.67167],"nice":false,"zero":false}}}},
{"data":{"values":[{"a":268.75,"b":326.75,"p":1.6272,"q":1.6164}]},"mark":{"type":"rect","fillOpacity":0,"stroke":"#DC1E2D","strokeWidth":3},"encoding":{"x":{"field":"a","type":"quantitative","scale":{"domain":[-0.325,376.425],"nice":false,"zero":false,"padding":0}},"x2":{"field":"b"},"y":{"field":"p","type":"quantitative","scale":{"domain":[1.60095,1.67167],"nice":false,"zero":false}},"y2":{"field":"q"}}},
{"data":{"name":"redArrows"},"mark":{"type":"point","filled":true,"opacity":1,"color":"#E8101C","size":100,"shape":"M-1,-0.4L0,-0.4L0,-1L1,0L0,1L0,0.4L-1,0.4Z"},"encoding":{"x":{"field":"a","type":"quantitative","scale":{"domain":[-0.325,376.425],"nice":false,"zero":false,"padding":0}},"y":{"field":"p","type":"quantitative","scale":{"domain":[1.60095,1.67167],"nice":false,"zero":false}}}},
{"data":{"name":"greenArrows"},"mark":{"type":"point","filled":true,"opacity":1,"color":"#0B6B12","size":100,"shape":"M-1,-0.4L0,-0.4L0,-1L1,0L0,1L0,0.4L-1,0.4Z"},"encoding":{"x":{"field":"a","type":"quantitative","scale":{"domain":[-0.325,376.425],"nice":false,"zero":false,"padding":0}},"y":{"field":"p","type":"quantitative","scale":{"domain":[1.60095,1.67167],"nice":false,"zero":false}}}},
{"data":{"values":[{"a":300,"p":1.6716}]},"mark":{"type":"point","filled":true,"opacity":1,"color":"#c8c8c8","size":220,"shape":"diamond"},"encoding":{"x":{"field":"a","type":"quantitative","scale":{"domain":[-0.325,376.425],"nice":false,"zero":false,"padding":0}},"y":{"field":"p","type":"quantitative","scale":{"domain":[1.60095,1.67167],"nice":false,"zero":false}}}},
{"data":{"values":[{"a":-1,"b":81.5,"p":1.6696,"q":1.662}]},"mark":{"type":"rect","color":"#A9A9CB","clip":true},"encoding":{"x":{"field":"a","type":"quantitative","scale":{"domain":[-0.325,376.425],"nice":false,"zero":false,"padding":0}},"x2":{"field":"b"},"y":{"field":"p","type":"quantitative","scale":{"domain":[1.60095,1.67167],"nice":false,"zero":false}},"y2":{"field":"q"}}},
{"data":{"name":"buttons"},"mark":{"type":"rect","fill":"#6A6A6A","stroke":"#8C8C9C","strokeWidth":1},"encoding":{"x":{"field":"a","type":"quantitative","scale":{"domain":[-0.325,376.425],"nice":false,"zero":false,"padding":0}},"x2":{"field":"b"},"y":{"field":"p","type":"quantitative","scale":{"domain":[1.60095,1.67167],"nice":false,"zero":false}},"y2":{"field":"q"}}},
{"data":{"values":[{"a":75.75,"b":79.75,"p":1.6691,"q":1.6674}]},"mark":{"type":"rect","fill":"#BEBED2","stroke":"#8C8CA4","strokeWidth":1},"encoding":{"x":{"field":"a","type":"quantitative","scale":{"domain":[-0.325,376.425],"nice":false,"zero":false,"padding":0}},"x2":{"field":"b"},"y":{"field":"p","type":"quantitative","scale":{"domain":[1.60095,1.67167],"nice":false,"zero":false}},"y2":{"field":"q"}}},
{"data":{"name":"buttons"},"mark":{"type":"text","font":"Noto Sans","fontSize":11.5,"color":"#EDEDED","align":"center","baseline":"middle"},"encoding":{"x":{"field":"m","type":"quantitative","scale":{"domain":[-0.325,376.425],"nice":false,"zero":false,"padding":0}},"y":{"field":"y","type":"quantitative","scale":{"domain":[1.60095,1.67167],"nice":false,"zero":false}},"text":{"field":"t"}}},
{"data":{"values":[{"t":"EURAUD,H4  1.60986 1.61091 1.60935 1.60983","a":3.25,"p":1.6705}]},"mark":{"type":"text","fontSize":12,"color":"#000000","align":"left","baseline":"middle"},"encoding":{"x":{"field":"a","type":"quantitative","scale":{"domain":[-0.325,376.425],"nice":false,"zero":false,"padding":0}},"y":{"field":"p","type":"quantitative","scale":{"domain":[1.60095,1.67167],"nice":false,"zero":false}},"text":{"field":"t"}}},
{"data":{"values":[{"a":0.5,"p":1.6706}]},"mark":{"type":"point","filled":true,"opacity":1,"color":"#000000","size":40,"shape":"triangle-down"},"encoding":{"x":{"field":"a","type":"quantitative","scale":{"domain":[-0.325,376.425],"nice":false,"zero":false,"padding":0}},"y":{"field":"p","type":"quantitative","scale":{"domain":[1.60095,1.67167],"nice":false,"zero":false}}}},
{"data":{"values":[{"t":"TradeCZ.cz","a":40.125,"p":1.6681}]},"mark":{"type":"text","fontSize":24,"fontWeight":"bold","color":"#DC143C","align":"center","baseline":"middle"},"encoding":{"x":{"field":"a","type":"quantitative","scale":{"domain":[-0.325,376.425],"nice":false,"zero":false,"padding":0}},"y":{"field":"p","type":"quantitative","scale":{"domain":[1.60095,1.67167],"nice":false,"zero":false}},"text":{"field":"t"}}},
{"data":{"values":[{"t":"X","a":77.75,"p":1.6683}]},"mark":{"type":"text","fontSize":18,"color":"#000000","align":"center","baseline":"middle"},"encoding":{"x":{"field":"a","type":"quantitative","scale":{"domain":[-0.325,376.425],"nice":false,"zero":false,"padding":0}},"y":{"field":"p","type":"quantitative","scale":{"domain":[1.60095,1.67167],"nice":false,"zero":false}},"text":{"field":"t"}}},
{"data":{"values":[{"t":"2 Apr 2024","a":-0.3,"p":1.6002}]},"mark":{"type":"text","fontSize":12.5,"color":"#000000","align":"left","baseline":"top"},"encoding":{"x":{"field":"a","type":"quantitative","scale":{"domain":[-0.325,376.425],"nice":false,"zero":false,"padding":0}},"y":{"field":"p","type":"quantitative","scale":{"domain":[1.60095,1.67167],"nice":false,"zero":false}},"text":{"field":"t"}}},
{"data":{"values":[{"t":"Short","a":333.75,"p":1.6191}]},"mark":{"type":"text","fontSize":16,"color":"#FF00FF","align":"left","baseline":"middle"},"encoding":{"x":{"field":"a","type":"quantitative","scale":{"domain":[-0.325,376.425],"nice":false,"zero":false,"padding":0}},"y":{"field":"p","type":"quantitative","scale":{"domain":[1.60095,1.67167],"nice":false,"zero":false}},"text":{"field":"t"}}},
{"data":{"values":[{"t":"Market Profile - Active","a":334.75,"p":1.6036}]},"mark":{"type":"text","fontSize":14.4,"color":"#1414C8","align":"left","baseline":"middle"},"encoding":{"x":{"field":"a","type":"quantitative","scale":{"domain":[-0.325,376.425],"nice":false,"zero":false,"padding":0}},"y":{"field":"p","type":"quantitative","scale":{"domain":[1.60095,1.67167],"nice":false,"zero":false}},"text":{"field":"t"}}},
{"data":{"values":[{"a":377,"b":392.75,"p":1.61877,"q":1.61717}]},"mark":{"type":"rect","color":"#FF00FF"},"encoding":{"x":{"field":"a","type":"quantitative","scale":{"domain":[-0.325,376.425],"nice":false,"zero":false,"padding":0}},"x2":{"field":"b"},"y":{"field":"p","type":"quantitative","scale":{"domain":[1.60095,1.67167],"nice":false,"zero":false}},"y2":{"field":"q"}}},
{"data":{"values":[{"a":377,"b":392.75,"p":1.61063,"q":1.60903}]},"mark":{"type":"rect","color":"#000000"},"encoding":{"x":{"field":"a","type":"quantitative","scale":{"domain":[-0.325,376.425],"nice":false,"zero":false,"padding":0}},"x2":{"field":"b"},"y":{"field":"p","type":"quantitative","scale":{"domain":[1.60095,1.67167],"nice":false,"zero":false}},"y2":{"field":"q"}}},
{"data":{"values":[{"t":"1.61797","a":384.9,"p":1.61797},{"t":"1.60983","a":384.9,"p":1.60983}]},"mark":{"type":"text","fontSize":13,"color":"#FFFFFF","align":"center","baseline":"middle"},"encoding":{"x":{"field":"a","type":"quantitative","scale":{"domain":[-0.325,376.425],"nice":false,"zero":false,"padding":0}},"y":{"field":"p","type":"quantitative","scale":{"domain":[1.60095,1.67167],"nice":false,"zero":false}},"text":{"field":"t"}}}
]}
